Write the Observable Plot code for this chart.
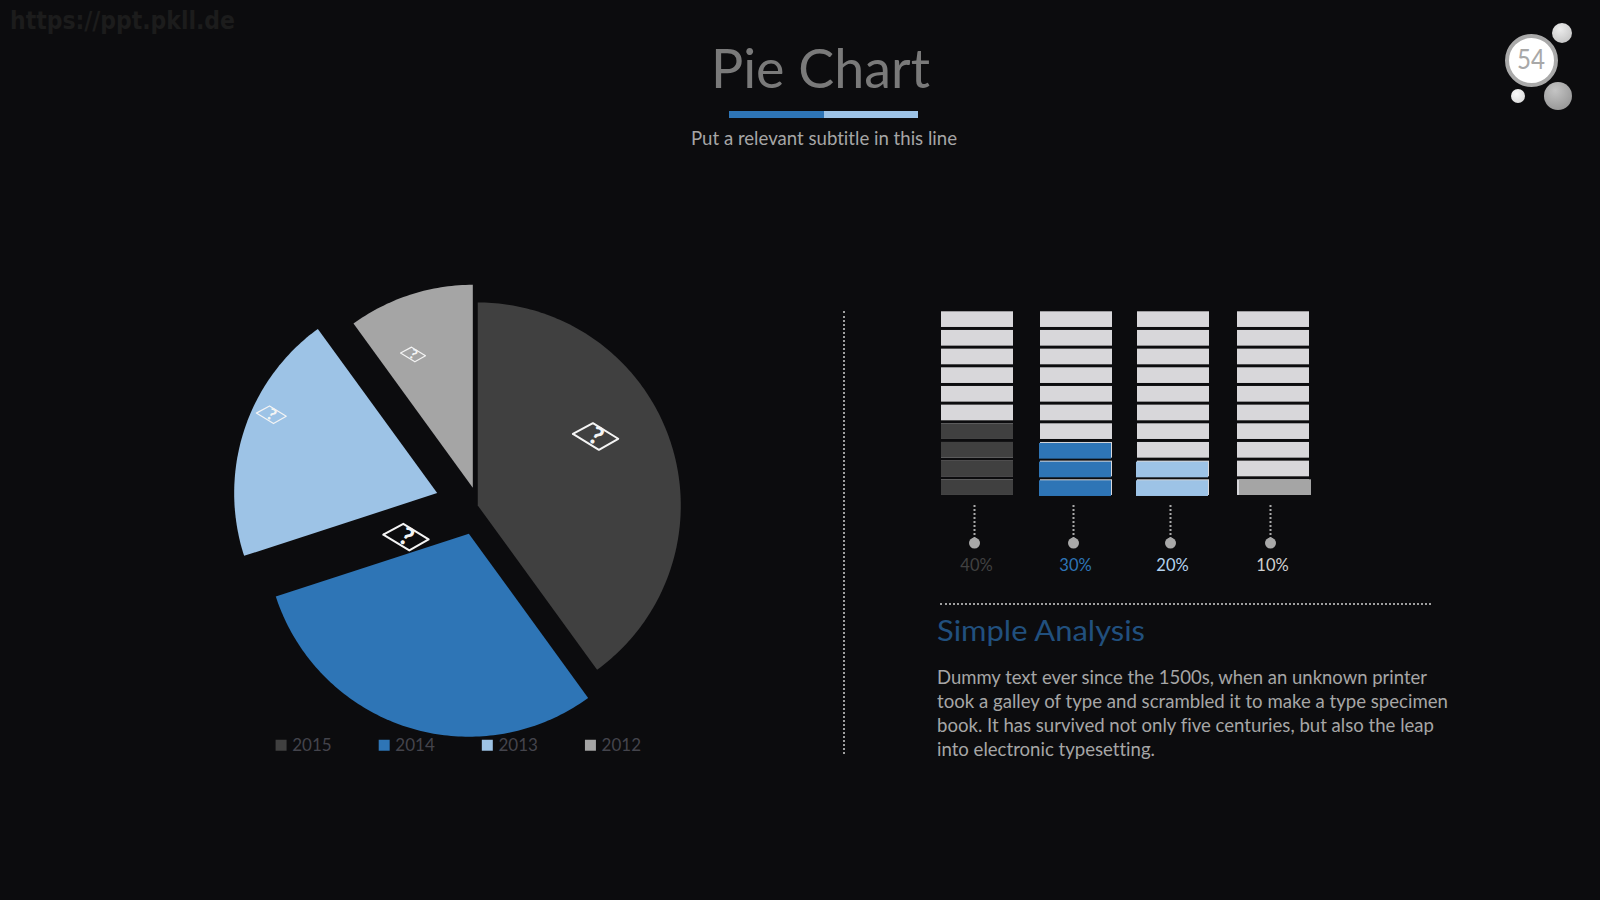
<!DOCTYPE html>
<html>
<head>
<meta charset="utf-8">
<script src="https://cdn.jsdelivr.net/npm/d3@7"></script>
<script src="https://cdn.jsdelivr.net/npm/@observablehq/plot@0.6"></script>
<style>
html,body{margin:0;padding:0;background:#0c0c0e;}
#page{position:relative;width:1600px;height:900px;overflow:hidden;background:#0c0c0e;font-family:Lato,sans-serif;font-variant-ligatures:none;}
#page>*{position:absolute;}
.t{white-space:nowrap;transform-origin:0 0;line-height:1.2;}
svg{background:transparent;}
.ball{border-radius:50%;}
</style>
</head>
<body>
<div id="page"></div>
<script>
// ---- data -----------------------------------------------------------
const years = ["2015", "2014", "2013", "2012"];
const shares = [40, 30, 20, 10];
const shareLabels = ["40%", "30%", "20%", "10%"];
// how far each slice is pulled out of the pie, in pie radii
const pullX = [0.026, -0.018, -0.174, 0.0015];
const pullY = [0, -0.139, 0.061, 0.087];
const rowsPerColumn = 10;
const bodyLines = [
  "Dummy text ever since the 1500s, when an unknown printer",
  "took a galley of type and scrambled it to make a type specimen",
  "book. It has survived not only five centuries, but also the leap",
  "into electronic typesetting."
];

// ---- styles ---------------------------------------------------------
const sliceColors = ["#404040", "#2e75b6", "#9dc3e6", "#a5a5a5"];
const emptyColor = "#d8d7da";
const labelColors = ["#414141", "#2e75b6", "#b4d2ee", "#d0d0d0"];
const page = document.getElementById("page");

function text(str, left, baseline, width, size, color, opts = {}) {
  const s = document.createElement("div");
  s.className = "t";
  s.textContent = str;
  s.style.cssText = `left:${left}px;top:0;font-size:${size}px;color:${color};` +
    `font-family:${opts.family || "Lato"},sans-serif;font-weight:${opts.weight || 400};`;
  const probe = document.createElement("i");
  probe.style.cssText = "display:inline-block;width:0;height:0;";
  s.appendChild(probe);
  page.appendChild(s);
  const base = probe.getBoundingClientRect().bottom - page.getBoundingClientRect().top;
  s.style.top = (baseline - base) + "px";
  const w = s.getBoundingClientRect().width;
  s.style.transform = `scaleX(${width / w})`;
  return s;
}
function box(css, cls) {
  const d = document.createElement("div");
  d.style.cssText = css;
  if (cls) d.className = cls;
  page.appendChild(d);
  return d;
}

// ---- page furniture -------------------------------------------------
text("https://ppt.pkll.de", 10, 29, 225, 24, "#1c1c1c", {family: "'DejaVu Sans'", weight: 700});
text("Pie Chart", 711, 88, 219, 54, "#7a7a7a");
box("left:729px;top:111px;width:95px;height:7px;background:#2e75b6;");
box("left:824px;top:111px;width:94px;height:7px;background:#9dc3e6;");
text("Put a relevant subtitle in this line", 691, 145, 266, 18.5, "#a6a6a6");

box("left:1505px;top:33.5px;width:45px;height:45px;border:4.5px solid #a9a9a9;background:#fff;", "ball");
box("left:1552px;top:23px;width:20px;height:20px;background:radial-gradient(circle at 40% 30%,#ececec,#bcbcbc);", "ball");
box("left:1511px;top:89px;width:14px;height:14px;background:radial-gradient(circle at 40% 35%,#fafafa,#d4d4d4);", "ball");
box("left:1544px;top:82px;width:28px;height:28px;background:radial-gradient(circle at 40% 30%,#c4c4c4,#8c8c8c);", "ball");
text("54", 1517, 69, 28, 26, "#a8a8a8");

box("left:843px;top:311px;height:443px;width:0;border-left:2px dotted #a0a0a0;");
box("left:940px;top:603px;width:491px;height:0;border-top:2px dotted #a0a0a0;");

text("Simple Analysis", 937, 640.5, 208, 28, "#21507e");
const lineEnds = [1427, 1448, 1434, 1155];
bodyLines.forEach((l, i) => text(l, 937, 684 + i * 24.1, lineEnds[i] - 937, 18.5, "#a6a6a6"));

// ---- pie ------------------------------------------------------------
const colorScale = {type: "ordinal", domain: years, range: sliceColors};
const total = d3.sum(shares);
const slicePoints = [];
let running = 0;
years.forEach((year, i) => {
  const a0 = running / total * 2 * Math.PI;
  running += shares[i];
  const a1 = running / total * 2 * Math.PI;
  const steps = Math.ceil((a1 - a0) / (Math.PI / 180));
  slicePoints.push({year, x: pullX[i], y: pullY[i]});
  for (let k = 0; k <= steps; k++) {
    const a = a0 + (a1 - a0) * k / steps;
    slicePoints.push({year, x: pullX[i] + Math.sin(a), y: pullY[i] + Math.cos(a)});
  }
  slicePoints.push({year, x: pullX[i], y: pullY[i]});
});

// picture placeholders sitting on the pie: x, y in radii, k = relative size
const placeholders = [
  {id: "a", x: 0.608, y: 0.340, k: 1},
  {id: "b", x: -0.326, y: -0.156, k: 1},
  {id: "c", x: -0.292, y: 0.744, k: 0.55},
  {id: "d", x: -0.990, y: 0.447, k: 0.66}
];
const corner = [[-0.1133, 0.0123], [-0.0148, 0.0655], [0.1099, -0.0113], [0.0148, -0.0655], [-0.1133, 0.0123]];
const placeholderOutline = placeholders.flatMap(p =>
  corner.map(([cx, cy]) => ({id: p.id, k: p.k, x: p.x + cx * p.k, y: p.y + cy * p.k})));

const legend = years.map((year, i) => ({year, x: -0.943 + i * 0.508, y: -1.181}));

const pie = Plot.plot({
  width: 500, height: 500, margin: 0,
  x: {domain: [-1.3399, 1.1232], range: [0, 500], axis: null},
  y: {domain: [-1.3054, 1.1576], range: [500, 0], axis: null},
  color: colorScale,
  style: {background: "transparent", color: "#fff"},
  marks: [
    Plot.line(slicePoints, {x: "x", y: "y", z: "year", fill: "year", stroke: "none"}),
    Plot.line(placeholderOutline, {x: "x", y: "y", z: "id", stroke: "#f4f4f4", fill: "none",
      strokeWidth: d => d.k === 1 ? 2 : 1.2}),
    Plot.text(placeholders, {x: "x", y: "y", text: () => "?", rotate: 30, fill: "#f4f4f4", fontWeight: 900,
      fontFamily: "Lato", fontSize: d => 25 * d.k}),
    Plot.dot(legend, {x: "x", y: "y", symbol: "square", r: 6.2, fill: "year"}),
    Plot.text(legend, {x: d => d.x + 0.055, y: "y", text: "year", textAnchor: "start", fill: "#44444c",
      fontFamily: "Lato", fontSize: 17})
  ]
});
pie.style.cssText = "left:200px;top:270px;";
page.appendChild(pie);

// ---- segmented columns ----------------------------------------------
const segments = shareLabels.flatMap((label, c) =>
  d3.range(rowsPerColumn).map(r => ({
    label, year: years[c], y1: r + 0.08, y2: r + 0.92,
    filled: r < shares[c] / (total / rowsPerColumn)
  })));
const columnShift = [-2, -1, -2, 0];
const fillNudges = [[0, 0], [-1, 1], [-1, 1], [2, 0]];
const columnMarks = years.flatMap((year, i) => [
  Plot.barY(segments.filter(d => d.year === year), {
    x: "label", y1: "y1", y2: "y2", fill: emptyColor, dx: columnShift[i]
  }),
  Plot.barY(segments.filter(d => d.filled && d.year === year), {
    x: "label", y1: "y1", y2: "y2", fill: "year",
    dx: columnShift[i] + fillNudges[i][0], dy: fillNudges[i][1]
  })
]);
const pins = shareLabels.map((label, i) => ({label, year: years[i], color: labelColors[i]}));
const columns = Plot.plot({
  width: 420, height: 290, margin: 0,
  x: {type: "band", domain: shareLabels, range: [22, 389], paddingInner: 0.267, paddingOuter: 0, axis: null},
  y: {domain: [-5.01, 10.525], range: [290, 0], axis: null},
  color: colorScale,
  style: {background: "transparent", color: "#fff"},
  marks: [
    ...columnMarks,
    ...pins.map((p, i) => Plot.ruleX([p], {x: "label", y1: -0.46, y2: -2.3, dx: -3 + columnShift[i],
      stroke: "#a9a9a9", strokeWidth: 2, strokeDasharray: "2 2"})),
    ...pins.map((p, i) => Plot.dot([p], {x: "label", y: -2.47, dx: -3 + columnShift[i], r: 5.5, fill: "#a9a9a9"})),
    ...pins.map((p, i) => Plot.text([p], {x: "label", y: -3.68, dx: -2 + columnShift[i] + 1, text: "label",
      fill: "color", fontFamily: "Lato", fontSize: 16.5}))
  ]
});
columns.style.cssText = "left:920px;top:300px;";
page.appendChild(columns);
</script>
</body>
</html>
